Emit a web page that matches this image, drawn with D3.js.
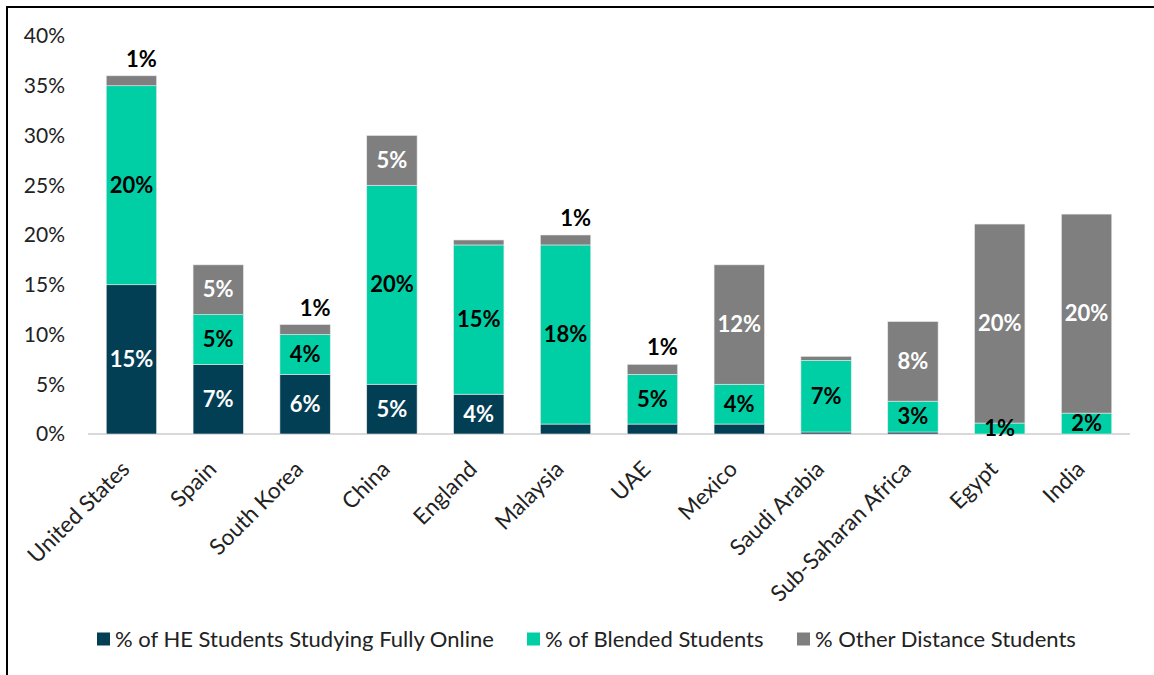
<!DOCTYPE html>
<html>
<head>
<meta charset="utf-8">
<script src="https://cdn.jsdelivr.net/npm/d3@7"></script>
<style>
  body { margin: 0; background: #fff; }
  text { font-family: Lato, "Open Sans", sans-serif; }
</style>
</head>
<body>
<script>
var width = 1154,
    height = 675;

// data (percent)
var countries = ["United States", "Spain", "South Korea", "China", "England", "Malaysia",
                 "UAE", "Mexico", "Saudi Arabia", "Sub-Saharan Africa", "Egypt", "India"];
var fullyOnline = [15, 7, 6, 5, 4, 1, 1, 1, 0.2, 0.2, 0, 0];
var blended     = [20, 5, 4, 20, 15, 18, 5, 4, 7.2, 3.1, 1.1, 2.1];
var otherDist   = [1, 5, 1, 5, 0.5, 1, 1, 12, 0.4, 8, 20, 20];

// printed labels ("" = no label, "^" prefix = shown above the bar)
var onlineLabels  = ["15%", "7%", "6%", "5%", "4%", "", "", "", "", "", "", ""];
var blendedLabels = ["20%", "5%", "4%", "20%", "15%", "18%", "5%", "4%", "7%", "3%", "1%", "2%"];
var otherLabels   = ["^1%", "5%", "^1%", "5%", "", "^1%", "^1%", "12%", "", "8%", "20%", "20%"];

var seriesNames = ["% of HE Students Studying Fully Online", "% of Blended Students", "% Other Distance Students"];
var seriesKeys = ["online", "blended", "other"];
var colors = ["#023e54", "#00cfa5", "#7f7f7f"];
var labelColors = ["#fff", "#000", "#fff"];
var yTicks = [0, 5, 10, 15, 20, 25, 30, 35, 40];

var rows = countries.map(function(c, i) {
  return {country: c, online: fullyOnline[i], blended: blended[i], other: otherDist[i],
          labels: [onlineLabels[i], blendedLabels[i], otherLabels[i]]};
});

var svg = d3.select("body").append("svg")
    .attr("width", width)
    .attr("height", height);

// outer frame (only top and left edges show)
svg.append("rect")
    .attr("x", 7).attr("y", 7)
    .attr("width", width + 20).attr("height", height + 20)
    .attr("fill", "none")
    .attr("stroke", "#000")
    .attr("stroke-width", 2);

var x = d3.scaleBand()
    .domain(countries)
    .range([88, 1130])
    .paddingInner(0.42)
    .paddingOuter(0.21);

var y = d3.scaleLinear()
    .domain([0, 40])
    .range([434, 36]);

var stack = d3.stack().keys(seriesKeys);
var layers = stack(rows);

// y tick labels
svg.append("g")
    .selectAll("text")
    .data(yTicks)
    .enter()
    .append("text")
    .attr("x", 65)
    .attr("y", function(d) { return y(d); })
    .attr("dy", "0.35em")
    .attr("text-anchor", "end")
    .attr("font-size", 21)
    .attr("fill", "#222")
    .text(function(d) { return d + "%"; });

// baseline
svg.append("line")
    .attr("x1", 88).attr("x2", 1130)
    .attr("y1", y(0)).attr("y2", y(0))
    .attr("stroke", "#d9d9d9")
    .attr("stroke-width", 2);

var layer = svg.selectAll(".layer")
    .data(layers)
    .enter()
    .append("g")
    .attr("class", "layer")
    .attr("fill", function(d, i) { return colors[i]; });

layer.selectAll("rect")
    .data(function(d) { return d; })
    .enter()
    .append("rect")
    .attr("x", function(d) { return x(d.data.country); })
    .attr("width", x.bandwidth())
    .attr("y", function(d) { return y(d[1]); })
    .attr("height", function(d) { return y(d[0]) - y(d[1]); })
    .attr("stroke", "#e8e8e8")
    .attr("stroke-width", 0.6);

// segment labels
layers.forEach(function(L, li) {
  svg.append("g").selectAll("text")
    .data(L.filter(function(d) { return d.data.labels[li] !== ""; }))
    .enter()
    .append("text")
    .attr("font-size", 22)
    .attr("font-weight", "bold")
    .attr("text-anchor", "middle")
    .each(function(d) {
      var lab = d.data.labels[li];
      var cx = x(d.data.country) + x.bandwidth() / 2;
      var t = d3.select(this);
      if (lab.charAt(0) === "^") {
        t.attr("x", cx + 10)
         .attr("y", y(d[1]) - 9)
         .attr("fill", "#000")
         .text(lab.slice(1));
      } else {
        t.attr("x", cx)
         .attr("y", (y(d[0]) + y(d[1])) / 2)
         .attr("dy", "0.35em")
         .attr("fill", labelColors[li])
         .text(lab);
      }
    });
});

// x category labels, rotated
svg.append("g")
    .selectAll("text")
    .data(countries)
    .enter()
    .append("text")
    .attr("transform", function(d) {
      return "translate(" + (x(d) + x.bandwidth() / 2 - 6) + "," + 465 + ") rotate(-45)";
    })
    .attr("text-anchor", "end")
    .attr("dy", "0.35em")
    .attr("font-size", 22.5)
    .attr("fill", "#222")
    .text(function(d) { return d; });

// legend
var legendX = [97, 527, 797];
var legend = svg.append("g")
    .selectAll("g")
    .data(seriesNames)
    .enter()
    .append("g")
    .attr("transform", function(d, i) { return "translate(" + legendX[i] + ",639)"; });

legend.append("rect")
    .attr("x", 0).attr("y", -6.5)
    .attr("width", 13).attr("height", 13)
    .attr("fill", function(d, i) { return colors[i]; });

legend.append("text")
    .attr("x", 18)
    .attr("dy", "0.35em")
    .attr("font-size", 22)
    .attr("fill", "#222")
    .text(function(d) { return d; });
</script>
</body>
</html>
